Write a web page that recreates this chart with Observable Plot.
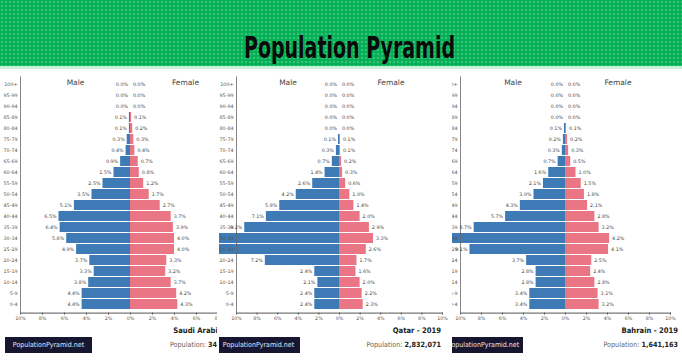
<!DOCTYPE html>
<html><head><meta charset="utf-8">
<script src="https://cdn.jsdelivr.net/npm/d3@7"></script>
<script src="https://cdn.jsdelivr.net/npm/@observablehq/plot@0.6"></script>
<style>
html,body{margin:0;padding:0;background:#fff;}
#root{position:relative;width:682px;height:361px;overflow:hidden;font-family:"DejaVu Sans Condensed","DejaVu Sans",sans-serif;}
#banner{position:absolute;left:0;top:0;width:682px;height:66px;background-color:#05b156;
  background-image:radial-gradient(rgba(255,255,255,.30) 0.6px, transparent 1px);background-size:4px 4px;}
#strip{position:absolute;left:0;top:66px;width:682px;height:3px;background:#c6f2da;}
#titleSvg{position:absolute;left:0;top:0;}
.panel{position:absolute;top:0;height:361px;overflow:hidden;}
.inner{position:absolute;top:0;height:361px;}
.inner svg.plot{position:absolute;top:68px;left:0;}
.brand{position:absolute;top:337px;height:16px;line-height:16px;background:#161631;color:#e6e6f4;font-size:7px;white-space:nowrap;text-align:center;font-family:"DejaVu Sans Condensed",sans-serif;}
.ctitle{position:absolute;top:326px;font-weight:bold;font-size:7.6px;line-height:10px;text-align:right;white-space:nowrap;color:#222;}
.cpop{position:absolute;top:340px;font-size:7.2px;line-height:10px;text-align:right;white-space:nowrap;color:#666;}
.cpop b{color:#222;}
</style>
</head><body>
<div id="root">
  <div id="banner"></div>
  <div id="strip"></div>
  <svg id="titleSvg" width="682" height="70"><text x="349.5" y="58" text-anchor="middle" textLength="211" lengthAdjust="spacingAndGlyphs" font-family="DejaVu Sans Condensed" font-weight="bold" font-size="31" fill="#0a0a0a">Population Pyramid</text></svg>
</div>
<script>
// ---- data ----
const ageGroups = ["100+","95-99","90-94","85-89","80-84","75-79","70-74","65-69","60-64","55-59","50-54","45-49","40-44","35-39","30-34","25-29","20-24","15-19","10-14","5-9","0-4"];
const xTicks = [-10,-8,-6,-4,-2,0,2,4,6,8,10];
const sideLabels = ["Male","Female"];
const sidePositions = [-5,5];

const saudiMale   = [0.0,0.0,0.0,0.1,0.1,0.3,0.4,0.9,1.5,2.5,3.5,5.1,6.5,6.4,5.8,4.9,3.7,3.3,3.8,4.4,4.4];
const saudiFemale = [0.0,0.0,0.0,0.1,0.2,0.3,0.4,0.7,0.8,1.2,1.7,2.7,3.7,3.9,4.0,4.0,3.3,3.2,3.7,4.2,4.3];
const qatarMale   = [0.0,0.0,0.0,0.0,0.0,0.1,0.3,0.7,1.4,2.6,4.2,5.8,7.1,9.2,13.4,12.1,7.2,2.4,2.1,2.4,2.4];
const qatarFemale = [0.0,0.0,0.0,0.0,0.0,0.1,0.1,0.2,0.3,0.6,1.0,1.4,2.0,2.9,3.3,2.6,1.7,1.6,2.0,2.2,2.3];
const bahrainMale   = [0.0,0.0,0.0,0.0,0.1,0.2,0.3,0.7,1.6,2.1,3.0,4.3,5.7,8.7,10.9,9.1,3.7,2.8,2.8,3.4,3.4];
const bahrainFemale = [0.0,0.0,0.0,0.0,0.1,0.2,0.3,0.5,1.0,1.5,1.8,2.1,2.8,3.2,4.2,4.1,2.5,2.4,2.8,3.1,3.2];

const countryTitles = ["Saudi Arabia - 2019","Qatar - 2019","Bahrain - 2019"];
const countryPops = ["34,268,528","2,832,071","1,641,163"];
const brandText = "PopulationPyramid.net";

const maleColor = "#3d7ab6";
const femaleColor = "#ea7584";

// panel screenshot geometry (collage)
const panels = [
  {male: saudiMale, female: saudiFemale, left: 0, clipWidth: 217, innerLeft: 0, marginLeft: 20, ppp: 11.0, titleRight: 249, brandLeft: 5, brandWidth: 87},
  {male: qatarMale, female: qatarFemale, left: 219, clipWidth: 233, innerLeft: 0, marginLeft: 17, ppp: 10.3, titleRight: 222, brandLeft: -2, brandWidth: 83},
  {male: bahrainMale, female: bahrainFemale, left: 452, clipWidth: 230, innerLeft: -8, marginLeft: 16, ppp: 10.5, titleRight: 234, brandLeft: 0, brandWidth: 79}
];

function pyramid(p) {
  const width = p.marginLeft + 20 * p.ppp + 10;
  const males = ageGroups.map((age, i) => ({age, sex: "Male", v: -p.male[i]}));
  const females = ageGroups.map((age, i) => ({age, sex: "Female", v: p.female[i]}));
  const fmt = d => Math.abs(d.v).toFixed(1) + "%";
  return Plot.plot({
    width, height: 258,
    marginLeft: p.marginLeft, marginRight: width - p.marginLeft - 20 * p.ppp,
    marginTop: 8.4, marginBottom: 13.4,
    style: {fontFamily: "DejaVu Sans, sans-serif", fontSize: "4.8px", color: "#555", background: "transparent"},
    x: {domain: [-10, 10], ticks: xTicks, tickFormat: d => Math.abs(d) + "%", tickSize: 2, tickPadding: 1.5, line: true, label: null},
    y: {domain: ageGroups, axis: null, padding: 0.08},
    color: {domain: sideLabels, range: [maleColor, femaleColor]},
    marks: [
      Plot.barX(males, {x: "v", y: "age", fill: "sex"}),
      Plot.barX(females, {x: "v", y: "age", fill: "sex"}),
      Plot.ruleX([-10], {stroke: "#666", strokeWidth: 0.8}),
      Plot.text(ageGroups, {y: d => d, frameAnchor: "left", textAnchor: "end", dx: -3, fill: "#555"}),
      Plot.text(males, {x: "v", y: "age", text: fmt, textAnchor: "end", dx: -2.5, fill: "#444"}),
      Plot.text(females, {x: "v", y: "age", text: fmt, textAnchor: "start", dx: 2.5, fill: "#444"}),
      Plot.text(sideLabels, {x: sidePositions, text: d => d, frameAnchor: "top", dy: 3, fontSize: 7.5, fill: "#444"})
    ]
  });
}

const root = document.getElementById("root");
panels.forEach((p, k) => {
  const panel = document.createElement("div");
  panel.className = "panel";
  panel.style.left = p.left + "px";
  panel.style.width = p.clipWidth + "px";
  const inner = document.createElement("div");
  inner.className = "inner";
  inner.style.left = p.innerLeft + "px";
  inner.style.width = "300px";
  const chart = pyramid(p);
  chart.classList.add("plot");
  inner.appendChild(chart);

  const t = document.createElement("div");
  t.className = "ctitle";
  t.style.right = (300 - p.titleRight) + "px";
  t.textContent = countryTitles[k];
  inner.appendChild(t);

  const pop = document.createElement("div");
  pop.className = "cpop";
  pop.style.right = (300 - p.titleRight) + "px";
  pop.innerHTML = "Population: <b>" + countryPops[k] + "</b>";
  inner.appendChild(pop);

  const b = document.createElement("div");
  b.className = "brand";
  b.style.left = p.brandLeft + "px";
  b.style.width = p.brandWidth + "px";
  b.textContent = brandText;
  inner.appendChild(b);

  panel.appendChild(inner);
  root.appendChild(panel);
});
</script>
</body></html>
